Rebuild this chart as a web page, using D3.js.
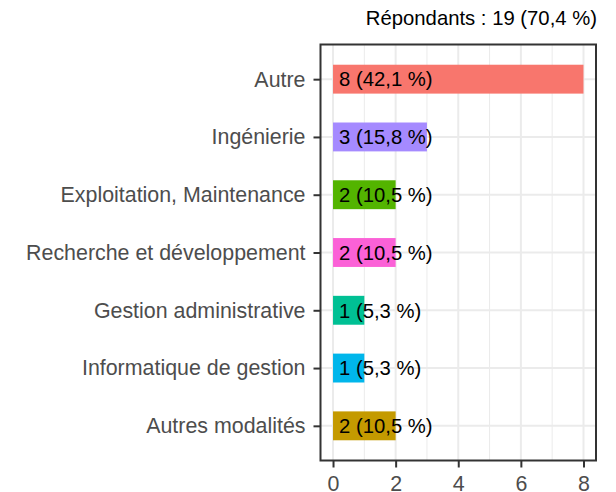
<!DOCTYPE html>
<html>
<head>
<meta charset="utf-8">
<script src="https://cdn.jsdelivr.net/npm/d3@7"></script>
<style>
  body { margin: 0; background: #fff; }
  text { font-family: "Liberation Sans", Arial, sans-serif; }
</style>
</head>
<body>
<script>
const categories = [
  "Autre",
  "Ingénierie",
  "Exploitation, Maintenance",
  "Recherche et développement",
  "Gestion administrative",
  "Informatique de gestion",
  "Autres modalités",
];
const counts = [8, 3, 2, 2, 1, 1, 2];
const labels = ["8 (42,1 %)", "3 (15,8 %)", "2 (10,5 %)", "2 (10,5 %)", "1 (5,3 %)", "1 (5,3 %)", "2 (10,5 %)"];
const colors = ["#F8766D", "#A58AFF", "#53B400", "#FB61D7", "#00C094", "#00B6EB", "#C49A00"];
const xTicks = [0, 2, 4, 6, 8];
const xMinor = [1, 3, 5, 7];
const title = "Répondants : 19 (70,4 %)";

const w = 616;
const h = 492;
const pLeft = 320.5, pRight = 596, pTop = 44.5, pBottom = 460.5;

const data = categories.map((c, i) => ({ cat: c, n: counts[i], label: labels[i], color: colors[i] }));

const svg = d3.select("body").append("svg").attr("width", w).attr("height", h);

const x = d3.scaleLinear().domain([-0.4, 8.4]).range([pLeft, pRight]);
const y = d3.scalePoint().domain(categories).range([pTop, pBottom]).padding(0.6);
const step = y.step();
const barH = step * 0.5;

// grid
const grid = svg.append("g");
grid.selectAll(".minor").data(xMinor).join("line")
  .attr("x1", d => x(d)).attr("x2", d => x(d))
  .attr("y1", pTop).attr("y2", pBottom)
  .attr("stroke", "#EBEBEB").attr("stroke-width", 1);
grid.selectAll(".major").data(xTicks).join("line")
  .attr("x1", d => x(d)).attr("x2", d => x(d))
  .attr("y1", pTop).attr("y2", pBottom)
  .attr("stroke", "#EBEBEB").attr("stroke-width", 2);
grid.selectAll(".hmajor").data(categories).join("line")
  .attr("x1", pLeft).attr("x2", pRight)
  .attr("y1", d => y(d)).attr("y2", d => y(d))
  .attr("stroke", "#EBEBEB").attr("stroke-width", 2);

// bars
svg.selectAll(".bar").data(data).join("rect")
  .attr("x", x(0))
  .attr("y", d => y(d.cat) - barH / 2)
  .attr("width", d => x(d.n) - x(0))
  .attr("height", barH)
  .attr("fill", d => d.color);

svg.selectAll(".lbl").data(data).join("text")
  .attr("x", x(0) + 6)
  .attr("y", d => y(d.cat))
  .attr("dy", "0.36em")
  .attr("font-size", 20.3)
  .attr("fill", "#000")
  .text(d => d.label);

// panel border
svg.append("rect")
  .attr("x", pLeft).attr("y", pTop)
  .attr("width", pRight - pLeft).attr("height", pBottom - pTop)
  .attr("fill", "none").attr("stroke", "#333333").attr("stroke-width", 2);

// axes
const xAxis = d3.axisBottom(x).tickValues(xTicks).tickSize(7).tickPadding(8).tickFormat(d3.format("d"));
const gx = svg.append("g").attr("transform", `translate(0,${pBottom})`).call(xAxis);
gx.select(".domain").remove();
gx.selectAll("line").attr("stroke", "#333333").attr("stroke-width", 2);
gx.selectAll("text").attr("font-size", 21.4).attr("fill", "#4D4D4D").attr("font-family", null);

const yAxis = d3.axisLeft(y).tickSize(7).tickPadding(8);
const gy = svg.append("g").attr("transform", `translate(${pLeft},0)`).call(yAxis);
gy.select(".domain").remove();
gy.selectAll("line").attr("stroke", "#333333").attr("stroke-width", 2);
gy.selectAll("text").attr("font-size", 21.4).attr("fill", "#4D4D4D").attr("font-family", null);

svg.append("text")
  .attr("x", pRight + 1)
  .attr("y", 25)
  .attr("text-anchor", "end")
  .attr("font-size", 20.3)
  .attr("fill", "#000")
  .text(title);
</script>
</body>
</html>
